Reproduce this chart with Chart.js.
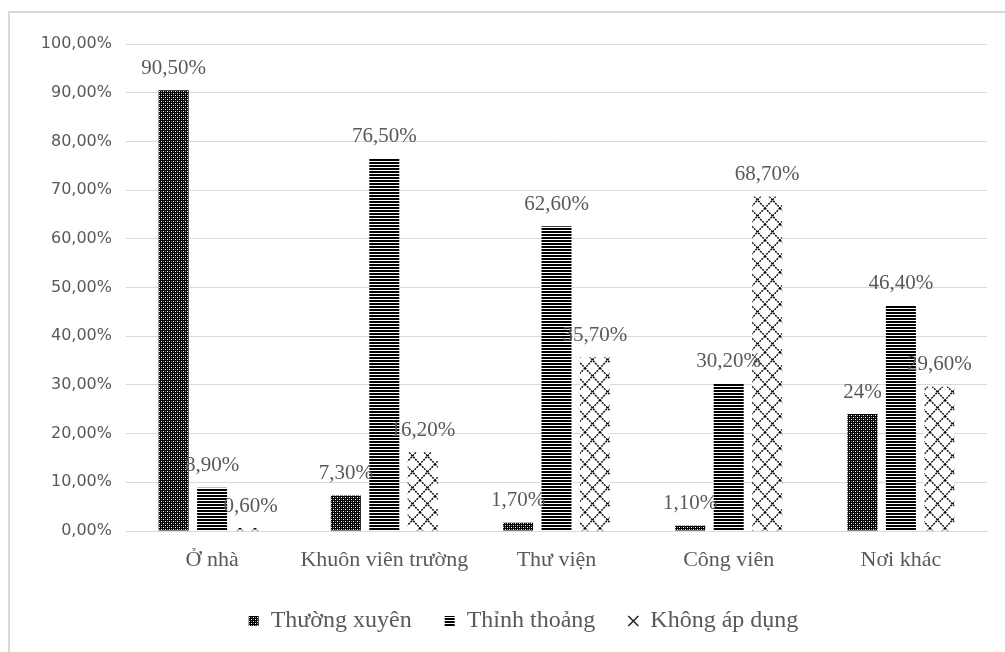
<!DOCTYPE html>
<html>
<head>
<meta charset="utf-8">
<script src="https://cdn.jsdelivr.net/npm/chart.js@4.4.1/dist/chart.umd.min.js"></script>
<style>
    body { margin: 0; background: #fff; overflow: hidden; }
    #frame { position: absolute; left: 8px; top: 11px; width: 1100px; height: 700px; border: 2px solid #d9d9d9; }
    #chart { position: absolute; left: 0; top: 0; }
</style>
</head>
<body>
<div id="frame"></div>
<canvas id="chart" width="1005" height="652"></canvas>
<script>
const categories = ['Ở nhà', 'Khuôn viên trường', 'Thư viện', 'Công viên', 'Nơi khác'];
const seriesNames = ['Thường xuyên', 'Thỉnh thoảng', 'Không áp dụng'];
const thuongXuyen = [90.5, 7.3, 1.7, 1.1, 24];
const thinhThoang = [8.9, 76.5, 62.6, 30.2, 46.4];
const khongApDung = [0.6, 16.2, 35.7, 68.7, 29.6];
// labels as printed on the picture
const thuongXuyenLabels = ['90,50%', '7,30%', '1,70%', '1,10%', '24%'];
const thinhThoangLabels = ['8,90%', '76,50%', '62,60%', '30,20%', '46,40%'];
const khongApDungLabels = ['0,60%', '16,20%', '35,70%', '68,70%', '29,60%'];

const gray = '#595959';
const gridGray = '#d9d9d9';
const serif = '"Liberation Serif", "Times New Roman", serif';

// pattern fills
function dotPattern() {
    const c = document.createElement('canvas');
    c.width = 4; c.height = 4;
    const g = c.getContext('2d');
    g.fillStyle = '#000';
    g.fillRect(0, 0, 4, 4);
    g.fillStyle = '#fff';
    g.fillRect(1, 1, 1, 1);
    g.fillRect(3, 3, 1, 1);
    g.fillStyle = '#777';
    g.fillRect(3, 1, 1, 1);
    g.fillRect(1, 3, 1, 1);
    return g.createPattern(c, 'repeat');
}

function stripePattern() {
    const c = document.createElement('canvas');
    c.width = 4; c.height = 6;
    const g = c.getContext('2d');
    g.fillStyle = '#fff';
    g.fillRect(0, 0, 4, 6);
    g.fillStyle = '#000';
    g.fillRect(0, 0, 4, 2);
    g.fillRect(0, 3, 4, 2);
    return g.createPattern(c, 'repeat');
}

function crossPattern() {
    const c = document.createElement('canvas');
    c.width = 15; c.height = 16;
    const g = c.getContext('2d');
    g.fillStyle = '#fff';
    g.fillRect(0, 0, 15, 16);
    g.strokeStyle = '#000';
    g.lineWidth = 1.4;
    g.setLineDash([2, 1]);
    g.beginPath();
    g.moveTo(0, 0); g.lineTo(15, 16);
    g.moveTo(15, 0); g.lineTo(0, 16);
    g.stroke();
    return g.createPattern(c, 'repeat');
}

// draws the value labels above the bars
const valueLabels = {
    id: 'valueLabels',
    afterDatasetsDraw(chart) {
        const ctx = chart.ctx;
        const all = [thuongXuyenLabels, thinhThoangLabels, khongApDungLabels];
        ctx.save();
        ctx.font = '21px ' + serif;
        ctx.fillStyle = gray;
        ctx.textAlign = 'center';
        ctx.textBaseline = 'middle';
        chart.data.datasets.forEach((ds, i) => {
            chart.getDatasetMeta(i).data.forEach((bar, j) => {
                ctx.fillText(all[i][j], bar.x, bar.y - 22);
            });
        });
        ctx.restore();
    }
};

// the legend in the picture sits a bit right of centre and a bit higher
const legendShift = {
    id: 'legendShift',
    afterLayout(chart) {
        if (chart.legend) {
            chart.legend.left += 30;
            chart.legend.right += 30;
            chart.legend.top -= 4;
            chart.legend.bottom -= 4;
        }
    }
};

const chart = new Chart(document.getElementById('chart'), {
    type: 'bar',
    data: {
        labels: categories,
        datasets: [
            { label: seriesNames[0], data: thuongXuyen, backgroundColor: dotPattern() },
            { label: seriesNames[1], data: thinhThoang, backgroundColor: stripePattern() },
            { label: seriesNames[2], data: khongApDung, backgroundColor: crossPattern() }
        ]
    },
    options: {
        responsive: false,
        animation: false,
        categoryPercentage: 0.67,
        barPercentage: 0.78,
        layout: {
            padding: { left: 0, right: 18, top: 44, bottom: 8 }
        },
        plugins: {
            tooltip: { enabled: false },
            legend: {
                position: 'bottom',
                maxHeight: 64,
                labels: {
                    color: gray,
                    font: { family: serif, size: 24 },
                    boxWidth: 10,
                    boxHeight: 10,
                    padding: 33,
                    usePointStyle: true,
                    generateLabels: function(chart) {
                        const items = Chart.defaults.plugins.legend.labels.generateLabels(chart);
                        items.forEach((item, i) => {
                            item.pointStyle = i === 2 ? 'crossRot' : 'rect';
                            if (i === 2) {
                                item.strokeStyle = '#222';
                                item.lineWidth = 1.5;
                            }
                        });
                        return items;
                    }
                }
            }
        },
        scales: {
            x: {
                grid: { display: false, drawTicks: false },
                border: { color: gridGray, width: 1 },
                ticks: {
                    color: gray,
                    padding: 16,
                    maxRotation: 0,
                    autoSkip: false,
                    font: { family: serif, size: 22 }
                },
                afterFit: function(scale) { scale.height = 49; }
            },
            y: {
                min: 0,
                max: 100,
                grid: { color: gridGray, drawTicks: false },
                border: { display: false },
                ticks: {
                    stepSize: 10,
                    color: gray,
                    padding: 14,
                    font: { family: '"DejaVu Sans", sans-serif', size: 16 },
                    callback: function(v) { return v.toFixed(2).replace('.', ',') + '%'; }
                },
                afterFit: function(scale) { scale.width = 126; }
            }
        }
    },
    plugins: [valueLabels, legendShift]
});
</script>
</body>
</html>
